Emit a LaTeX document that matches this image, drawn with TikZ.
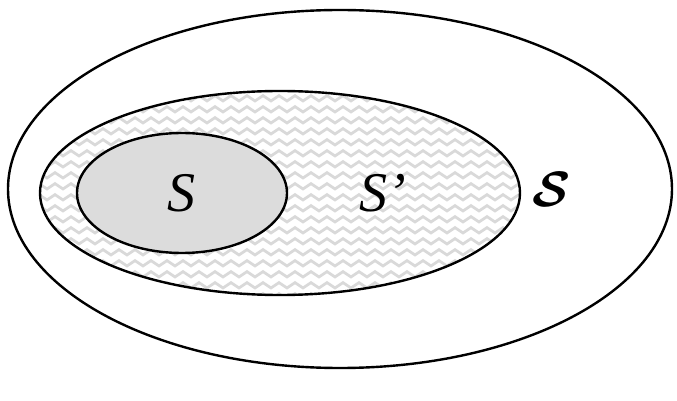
\documentclass[tikz,border=0pt]{standalone}
\usepackage{amsmath,amssymb}
\usepackage{fontspec}
\setmainfont{Liberation Serif}
\usepackage{xcolor}
\usepackage{tikz}
\usetikzlibrary{shapes.geometric,patterns}
\definecolor{SetGray}{HTML}{DCDCDC}
\definecolor{WaveGray}{HTML}{D9D9D9}

\pgfdeclarepatternformonly{waves}{\pgfpointorigin}{\pgfpoint{8pt}{5.5pt}}{\pgfpoint{8pt}{5.5pt}}{
  \pgfsetlinewidth{1.4pt}
  \pgfpathmoveto{\pgfpoint{-0.5pt}{1.2pt}}
  \pgfpathlineto{\pgfpoint{4pt}{4.2pt}}
  \pgfpathlineto{\pgfpoint{8.5pt}{1.2pt}}
  \pgfusepath{stroke}
}

\tikzset{
  setline/.style={draw=black, line width=1.2pt, ellipse, inner sep=0pt},
  setlabel/.style={font=\fontsize{28}{30}\selectfont\itshape}
}

\begin{document}
\begin{tikzpicture}[x=0.5pt, y=-0.5pt]
  \useasboundingbox (0,0) rectangle (677,401);
  % outer set
  \node[setline, minimum width=332pt, minimum height=179pt] (outer) at (340,189) {};
  % middle set, patterned
  \node[setline, pattern=waves, pattern color=WaveGray,
        minimum width=240pt, minimum height=102pt] (middle) at (280,193) {};
  % inner set
  \node[setline, fill=SetGray, minimum width=105pt, minimum height=60pt] (inner) at (182,193) {};
  \node[setlabel] (lblS) at (inner.center) {S};
  \node[setlabel] (lblSp) at (383,193) {S’};
  \node[font=\fontsize{32}{34}\selectfont] (lblcal) at (552,189) {$\boldsymbol{\mathcal{S}}$};
\end{tikzpicture}
\end{document}
